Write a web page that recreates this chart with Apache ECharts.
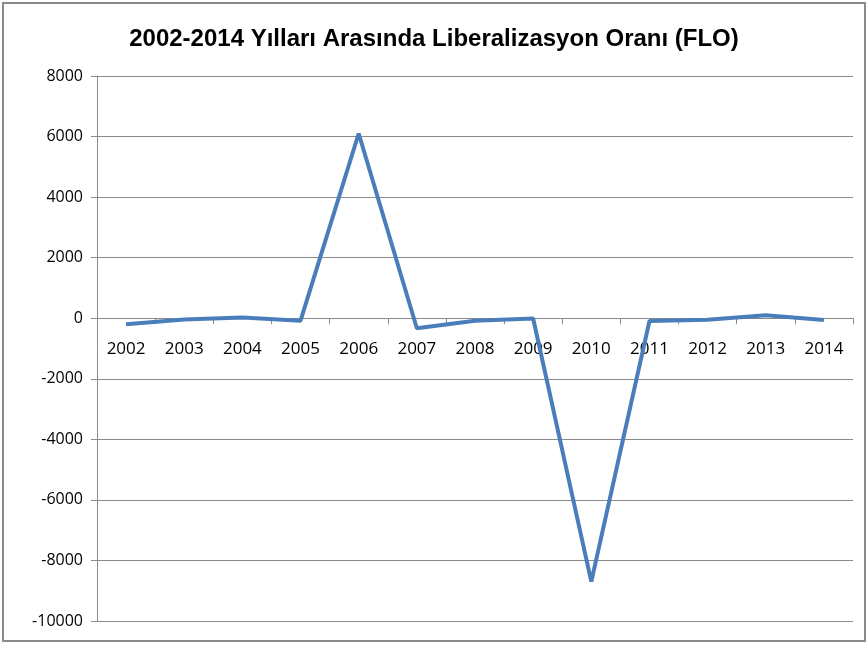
<!DOCTYPE html>
<html>
<head>
<meta charset="utf-8">
<script src="https://cdn.jsdelivr.net/npm/echarts@6/dist/echarts.min.js"></script>
<style>
  html, body { margin: 0; padding: 0; background: #fff; }
  #main { width: 868px; height: 647px; }
</style>
</head>
<body>
<div id="main"></div>
<script>
// yillar ve FLO degerleri
const years = ['2002', '2003', '2004', '2005', '2006', '2007', '2008',
  '2009', '2010', '2011', '2012', '2013', '2014'];
const floValues = [-200, -40, 20, -80, 6100, -330, -80, -10, -8700, -90, -50, 100, -60];
const yTicks = { min: -10000, max: 8000, step: 2000 };

const gridTop = 76, gridBottom = 26, chartH = 647;
const plotH = chartH - gridTop - gridBottom;
// x ekseni sifir cizgisine tasinir
const zeroOffset = -plotH * (0 - yTicks.min) / (yTicks.max - yTicks.min);

const chart = echarts.init(document.getElementById('main'));

const option = {
  backgroundColor: '#ffffff',
  animation: false,
  title: {
    text: '2002-2014 Yılları Arasında Liberalizasyon Oranı (FLO)',
    left: 'center',
    top: 22,
    textStyle: {
      fontFamily: 'Liberation Sans, sans-serif',
      fontSize: 24,
      fontWeight: 'bold',
      color: '#000'
    }
  },
  graphic: [{
    type: 'rect',
    shape: { x: 3, y: 3, width: 862, height: 638 },
    style: { fill: 'none', stroke: '#8a8a8a', lineWidth: 2 },
    silent: true
  }],
  grid: { left: 97, right: 15, top: gridTop, bottom: gridBottom, outerBoundsMode: 'none', containLabel: false },
  xAxis: {
    type: 'category',
    data: years,
    boundaryGap: true,
    offset: zeroOffset,
    axisLine: { onZero: false, lineStyle: { color: '#8a8a8a', width: 1 } },
    axisTick: { show: true, alignWithLabel: false, length: 6, lineStyle: { color: '#8a8a8a' } },
    axisLabel: {
      margin: 22,
      fontSize: 17,
      color: '#000',
      fontFamily: 'Open Sans, sans-serif'
    }
  },
  yAxis: {
    type: 'value',
    min: yTicks.min,
    max: yTicks.max,
    interval: yTicks.step,
    axisLine: { show: true, lineStyle: { color: '#8a8a8a', width: 1 } },
    axisTick: { show: true, length: 6, lineStyle: { color: '#8a8a8a' } },
    splitLine: { show: true, lineStyle: { color: '#8a8a8a', width: 1 } },
    axisLabel: {
      margin: 14,
      fontSize: 16,
      color: '#000',
      fontFamily: 'Open Sans, sans-serif',
      formatter: (v) => String(v)
    }
  },
  series: [{
    name: 'FLO',
    type: 'line',
    data: floValues,
    symbol: 'none',
    lineStyle: { color: '#4a7ebb', width: 4 },
    itemStyle: { color: '#4a7ebb' }
  }]
};

chart.setOption(option);
</script>
</body>
</html>
